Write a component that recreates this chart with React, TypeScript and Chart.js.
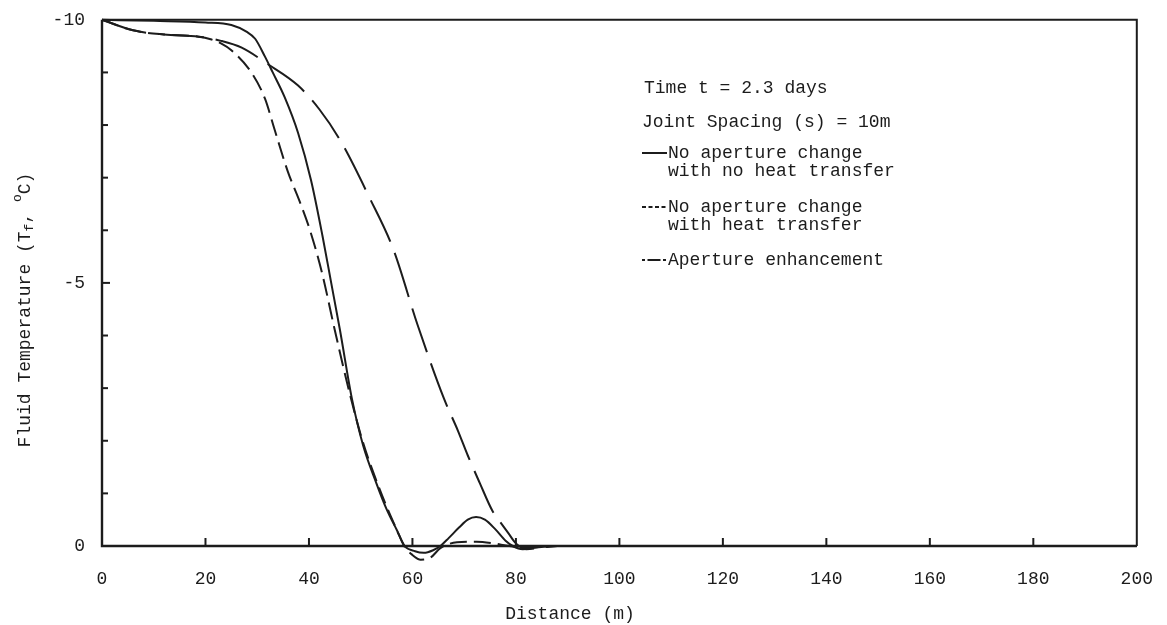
import React, { useEffect, useRef } from 'react';
import { Chart, registerables } from 'chart.js';

Chart.register(...registerables);

const FONT = '"Liberation Mono", "DejaVu Sans Mono", monospace';
const INK = '#1c1c1c';

// Axis tick labels
const xTickLabels = [0, 20, 40, 60, 80, 100, 120, 140, 160, 180, 200];
const yTickLabels = [-10, -5, 0];

// Series 1: No aperture change with no heat transfer (solid)
const solidDistance = [0, 10, 20, 25, 28, 29.6, 31.5, 33, 35.3, 37.9, 40.4, 42.6, 44.3, 46, 48.3, 50.5, 53, 55, 57, 58.5, 60.5, 62.2, 64, 65.4, 67, 69, 70.7, 72.3, 74, 76, 78, 79.4, 81.3, 84, 88, 200];
const solidTemp = [-10, -9.98, -9.95, -9.9, -9.77, -9.64, -9.3, -9.0, -8.53, -7.85, -6.95, -5.9, -5.0, -4.1, -2.8, -1.9, -1.2, -0.7, -0.3, 0.0, 0.1, 0.13, 0.08, 0.0, -0.15, -0.35, -0.5, -0.55, -0.5, -0.32, -0.1, 0.0, 0.06, 0.03, 0, 0];

// Series 2: No aperture change with heat transfer (short dashes)
const heatDistance = [0, 6, 12, 18.7, 21, 23, 25, 29, 31.5, 33.4, 35.9, 38.2, 40.2, 42.5, 45, 48, 50.5, 53, 55, 57, 58.4, 60, 61.6, 63.5, 65.4, 68.6, 72.4, 75.6, 78.7, 82, 88, 200];
const heatTemp = [-10, -9.8, -9.72, -9.68, -9.63, -9.55, -9.42, -8.98, -8.5, -7.9, -7.12, -6.55, -6.0, -5.2, -4.1, -2.85, -1.95, -1.25, -0.75, -0.3, 0, 0.17, 0.26, 0.22, 0.04, -0.07, -0.08, -0.05, 0, 0.03, 0, 0];

// Series 3: Aperture enhancement (long dashes)
const enhDistance = [0, 6, 12, 18.7, 23, 27, 32, 37.9, 42, 46.1, 51.7, 56.3, 61, 66.1, 68.8, 70.7, 73, 75.5, 77, 78.5, 80, 82, 85, 88, 200];
const enhTemp = [-10, -9.8, -9.72, -9.68, -9.6, -9.47, -9.16, -8.75, -8.3, -7.7, -6.62, -5.64, -4.2, -2.8, -2.19, -1.72, -1.2, -0.66, -0.45, -0.25, -0.05, 0.06, 0.03, 0, 0];

const noteLines = ['Time t = 2.3 days', 'Joint Spacing (s) = 10m'];
const seriesLabels = [
  ['No aperture change', 'with no heat transfer'],
  ['No aperture change', 'with heat transfer'],
  ['Aperture enhancement'],
];

const toPoints = (xs: number[], ys: number[]) => xs.map((x, i) => ({ x, y: ys[i] }));

const decor = {
  id: 'decor',
  afterDraw(chart: any) {
    const { ctx, chartArea: a, scales } = chart;
    const xs = scales.x;
    const ys = scales.y;
    ctx.save();
    ctx.strokeStyle = INK;
    ctx.fillStyle = INK;
    ctx.setLineDash([]);
    // frame
    ctx.lineWidth = 2.4;
    ctx.beginPath();
    ctx.moveTo(a.left, a.top);
    ctx.lineTo(a.left, a.bottom);
    ctx.lineTo(a.right, a.bottom);
    ctx.stroke();
    ctx.lineWidth = 2;
    ctx.beginPath();
    ctx.moveTo(a.left, a.top);
    ctx.lineTo(a.right, a.top);
    ctx.lineTo(a.right, a.bottom);
    ctx.stroke();
    // inside ticks
    ctx.lineWidth = 2;
    xTickLabels.forEach((v) => {
      if (v === 0 || v === 200) return;
      const px = xs.getPixelForValue(v);
      ctx.beginPath();
      ctx.moveTo(px, a.bottom);
      ctx.lineTo(px, a.bottom - 8);
      ctx.stroke();
    });
    for (let v = -9; v <= -1; v++) {
      const py = ys.getPixelForValue(v);
      ctx.beginPath();
      ctx.moveTo(a.left, py);
      ctx.lineTo(a.left + (v === -5 ? 8 : 6), py);
      ctx.stroke();
    }

    // legend / notes
    ctx.font = `18px ${FONT}`;
    ctx.textBaseline = 'middle';
    ctx.textAlign = 'left';
    const lx = 642;
    const tx = 668;
    ctx.fillText(noteLines[0], lx + 2, 88);
    ctx.fillText(noteLines[1], lx, 122);
    const rows = [153, 207, 260];
    const dashes = [[], [4, 2.5], [3, 2.5, 13, 2.5, 3]];
    rows.forEach((ry, i) => {
      ctx.lineWidth = 2;
      ctx.setLineDash(dashes[i]);
      ctx.beginPath();
      ctx.moveTo(lx, ry);
      ctx.lineTo(lx + 25, ry);
      ctx.stroke();
      ctx.setLineDash([]);
      seriesLabels[i].forEach((t, j) => ctx.fillText(t, tx, ry + j * 18));
    });

    // x title
    ctx.textAlign = 'center';
    ctx.fillText('Distance (m)', 570, 614);

    // y title with sub/superscripts
    ctx.translate(25, 310);
    ctx.rotate(-Math.PI / 2);
    const big = `18px ${FONT}`;
    const small = `13px ${FONT}`;
    const segs: [string, string, number][] = [
      ['Fluid Temperature (T', big, 0],
      ['f', small, 5],
      [', ', big, 0],
      ['o', small, -7],
      ['C)', big, 0],
    ];
    let total = 0;
    segs.forEach(([t, f]) => { ctx.font = f; total += ctx.measureText(t).width; });
    let cx = -total / 2;
    ctx.textAlign = 'left';
    segs.forEach(([t, f, dy]) => {
      ctx.font = f;
      ctx.fillText(t, cx, dy);
      cx += ctx.measureText(t).width;
    });
    ctx.restore();
  },
};

export default function App() {
  const ref = useRef<HTMLCanvasElement>(null);
  useEffect(() => {
    document.body.style.margin = '0';
    const common = {
      borderColor: INK,
      borderWidth: 2,
      pointRadius: 0,
      cubicInterpolationMode: 'monotone' as const,
      clip: false as any,
      fill: false,
    };
    const chart = new Chart(ref.current as HTMLCanvasElement, {
      type: 'line',
      data: {
        datasets: [
          { ...common, label: 'No aperture change with no heat transfer', data: toPoints(solidDistance, solidTemp) },
          { ...common, label: 'No aperture change with heat transfer', data: toPoints(heatDistance, heatTemp), borderDash: [17, 7] },
          { ...common, label: 'Aperture enhancement', data: toPoints(enhDistance, enhTemp), borderDash: [46, 12] },
        ],
      },
      options: {
        animation: false,
        responsive: false,
        layout: { padding: { top: 14, right: 19, left: 0, bottom: 0 } },
        plugins: { legend: { display: false }, tooltip: { enabled: false } },
        scales: {
          x: {
            type: 'linear',
            min: 0,
            max: 200,
            grid: { display: false },
            border: { display: false },
            ticks: {
              stepSize: 20,
              padding: 14,
              color: INK,
              autoSkip: false,
              maxRotation: 0,
              font: { family: FONT, size: 18 },
              callback: (v: any) => (xTickLabels.includes(Number(v)) ? String(v) : ''),
            },
            afterFit: (s: any) => { s.height = 79; },
          },
          y: {
            type: 'linear',
            min: -10,
            max: 0,
            reverse: true,
            grid: { display: false },
            border: { display: false },
            ticks: {
              stepSize: 1,
              padding: 9,
              color: INK,
              autoSkip: false,
              font: { family: FONT, size: 18 },
              callback: (v: any) => (yTickLabels.includes(Number(v)) ? String(v) : ''),
            },
            afterFit: (s: any) => { s.width = 102; },
          },
        },
      },
      plugins: [decor],
    });
    return () => chart.destroy();
  }, []);
  return (
    <div style={{ width: 1167, height: 625 }}>
      <canvas ref={ref} width={1167} height={625} style={{ display: 'block' }} />
    </div>
  );
}
